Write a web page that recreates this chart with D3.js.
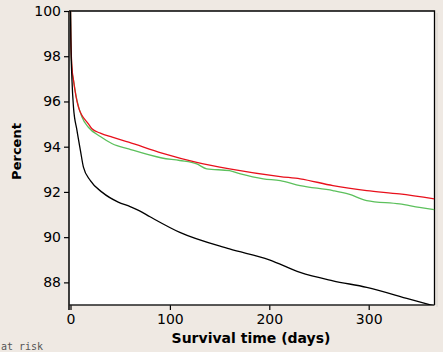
<!DOCTYPE html>
<html>
<head>
<meta charset="utf-8">
<script src="https://cdn.jsdelivr.net/npm/d3@7"></script>
<style>
  html, body { margin: 0; padding: 0; background: #efe9e3; }
  svg { display: block; }
</style>
</head>
<body>
<script>
// ---- data ----
const xTicks = [0, 100, 200, 300];
const yTicks = [88, 90, 92, 94, 96, 98, 100];

const blackDays = [0, 0.3, 1.5, 3, 6.5, 10, 13, 20, 32, 48, 60, 69, 80, 110, 160, 200, 231, 264, 298, 341, 365];
const blackPct  = [100, 98.9, 96.93, 95.75, 94.72, 93.83, 93.1, 92.5, 91.98, 91.55, 91.35, 91.17, 90.9, 90.21, 89.48, 89.0, 88.44, 88.07, 87.78, 87.26, 86.97];

const redDays = [0, 0.3, 1.5, 3, 8, 18, 21.6, 30, 42, 58.5, 92, 127, 160, 211, 231, 264, 298, 331, 366];
const redPct  = [100, 98.85, 97.5, 96.95, 95.75, 95.01, 94.79, 94.6, 94.42, 94.2, 93.72, 93.31, 93.02, 92.68, 92.58, 92.28, 92.06, 91.91, 91.69];

const greenDays = [0, 0.3, 1.5, 3, 6.5, 11.5, 18, 30, 42, 58.5, 92, 110, 127, 137, 160, 171, 194, 211, 231, 264, 280, 298, 331, 351, 366];
const greenPct  = [100, 98.8, 97.37, 96.93, 96.05, 95.31, 94.86, 94.45, 94.13, 93.9, 93.5, 93.39, 93.24, 93.02, 92.94, 92.8, 92.58, 92.5, 92.28, 92.06, 91.9, 91.62, 91.47, 91.32, 91.22];

const xLabel = "Survival time (days)";
const yLabel = "Percent";

// ---- drawing ----
const W = 443, H = 352;
const svg = d3.select("body").append("svg").attr("width", W).attr("height", H);

const plotL = 69, plotR = 434.5, plotT = 11, plotB = 305;
const x = d3.scaleLinear().domain([0, 366]).range([70.5, 434.3]);
const y = d3.scaleLinear().domain([87, 100]).range([plotB, plotT]);

// plot area
svg.append("rect").attr("x", plotL).attr("y", plotT)
  .attr("width", plotR - plotL).attr("height", plotB - plotT).attr("fill", "#fff");

// shadow line on right
svg.append("line").attr("x1", plotR + 2.5).attr("x2", plotR + 2.5)
  .attr("y1", plotT + 2).attr("y2", plotB + 2).attr("stroke", "#d8d4ce").attr("stroke-width", 1);

// frame top/right
svg.append("path")
  .attr("d", `M${plotL},${plotT}H${plotR}V${plotB}`)
  .attr("fill", "none").attr("stroke", "#000").attr("stroke-width", 1.3);

const font = "'DejaVu Sans', Verdana, sans-serif";

// y axis
const yAxis = d3.axisLeft(y).tickValues(yTicks).tickSize(5).tickPadding(3).tickFormat(d3.format("d"));
const gy = svg.append("g").attr("transform", `translate(${plotL},0)`).call(yAxis);
gy.select(".domain").remove();
gy.append("line").attr("x1", 0).attr("x2", 0).attr("y1", plotT).attr("y2", plotB + 5)
  .attr("stroke", "#000").attr("stroke-width", 1.5);
gy.selectAll(".tick line").attr("stroke", "#000").attr("stroke-width", 1.2);
gy.selectAll(".tick text").attr("font-family", font).attr("font-size", 14).attr("fill", "#000");

// x axis
const xAxis = d3.axisBottom(x).tickValues(xTicks).tickSize(5).tickPadding(4).tickFormat(d3.format("d"));
const gx = svg.append("g").attr("transform", `translate(0,${plotB})`).call(xAxis);
gx.select(".domain").remove();
gx.append("line").attr("x1", plotL).attr("x2", plotR).attr("y1", 0).attr("y2", 0)
  .attr("stroke", "#222").attr("stroke-width", 1.3);
gx.selectAll(".tick line").attr("stroke", "#000").attr("stroke-width", 1.2);
gx.selectAll(".tick text").attr("font-family", font).attr("font-size", 14).attr("fill", "#000");

// axis titles
svg.append("text").attr("x", 251).attr("y", 343).attr("text-anchor", "middle")
  .attr("font-family", font).attr("font-weight", "bold").attr("font-size", 14)
  .text(xLabel);
svg.append("text").attr("transform", "translate(21,151.5) rotate(-90)").attr("text-anchor", "middle")
  .attr("font-family", font).attr("font-weight", "bold").attr("font-size", 13)
  .text(yLabel);

// curves
const line = d3.line().x(d => x(d[0])).y(d => y(d[1])).curve(d3.curveMonotoneX);
svg.append("clipPath").attr("id", "clip").append("rect")
  .attr("x", plotL).attr("y", plotT - 1).attr("width", plotR - plotL).attr("height", plotB - plotT + 1);

const series = [
  { days: greenDays, pct: greenPct, color: "#5cc05c" },
  { days: redDays, pct: redPct, color: "#e8101c" },
  { days: blackDays, pct: blackPct, color: "#000" }
];
series.forEach(s => {
  svg.append("path")
    .datum(s.days.map((d, i) => [d, s.pct[i]]))
    .attr("clip-path", "url(#clip)")
    .attr("fill", "none").attr("stroke", s.color).attr("stroke-width", 1.3)
    .attr("d", line);
});

// partially visible "at risk" caption at bottom
svg.append("text").attr("x", 1).attr("y", 350)
  .attr("font-family", "'DejaVu Sans Mono', monospace").attr("font-size", 10)
  .attr("fill", "#555").text("at risk");
</script>
</body>
</html>
